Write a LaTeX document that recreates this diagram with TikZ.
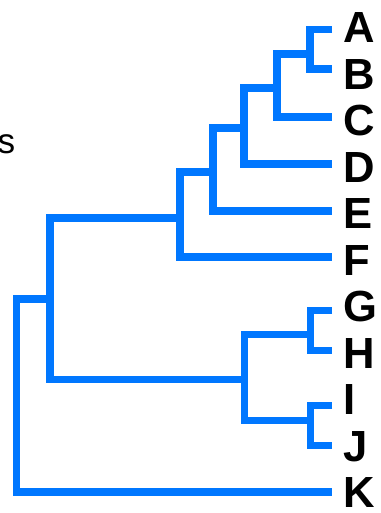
\documentclass[tikz,border=0pt]{standalone}
\usepackage{fontspec}
\setmainfont{Liberation Sans}
\definecolor{treeblue}{RGB}{0,119,255}

\begin{document}
\begin{tikzpicture}[x=0.25mm,y=-0.25mm,
	branch/.style={draw=treeblue,line width=5.2pt,line join=miter},
	leaf/.style={anchor=west,inner sep=0pt,text height=22.2pt,text depth=0pt,font=\fontsize{31}{31}\selectfont\bfseries}]
	\useasboundingbox (0,0) rectangle (380,513);
	
	% tips of the leaves, with their names evenly spaced
	\path \foreach \n/\y [count=\k from 0] in {A/29.5, B/69, C/117, D/164, E/211, F/257, G/310.5, H/350.5, I/405.5, J/445.5, K/492}
	{coordinate (\n) at (332,\y) node[leaf] (l\n) at (343,27+46.5*\k) {\n}};
	
	% splits: x of the split, y where the parent branch joins
	\coordinate (ab) at (310,54);
	\coordinate (abc) at (277,88);
	\coordinate (abcd) at (244,128);
	\coordinate (abcde) at (213,172);
	\coordinate (abcdef) at (180,218);
	\coordinate (gh) at (310.5,334.5);
	\coordinate (ij) at (310.5,420.5);
	\coordinate (ghij) at (244.5,379.5);
	\coordinate (aj) at (50,299);
	\coordinate (root) at (16.3,395);
	
	\draw[branch] (A) -| (ab) |- (B);
	\draw[branch] (ab) -| (abc) |- (C);
	\draw[branch] (abc) -| (abcd) |- (D);
	\draw[branch] (abcd) -| (abcde) |- (E);
	\draw[branch] (abcde) -| (abcdef) |- (F);
	\draw[branch] (G) -| (gh) |- (H);
	\draw[branch] (I) -| (ij) |- (J);
	\draw[branch] (gh) -| (ghij) |- (ij);
	\draw[branch] (abcdef) -| (aj) |- (ghij);
	\draw[branch] (aj) -| (root) |- (K);
	
	\node[anchor=base east,inner sep=0pt,font=\fontsize{25}{25}\selectfont] (s) at (15.5,153) {s};
\end{tikzpicture}
\end{document}
